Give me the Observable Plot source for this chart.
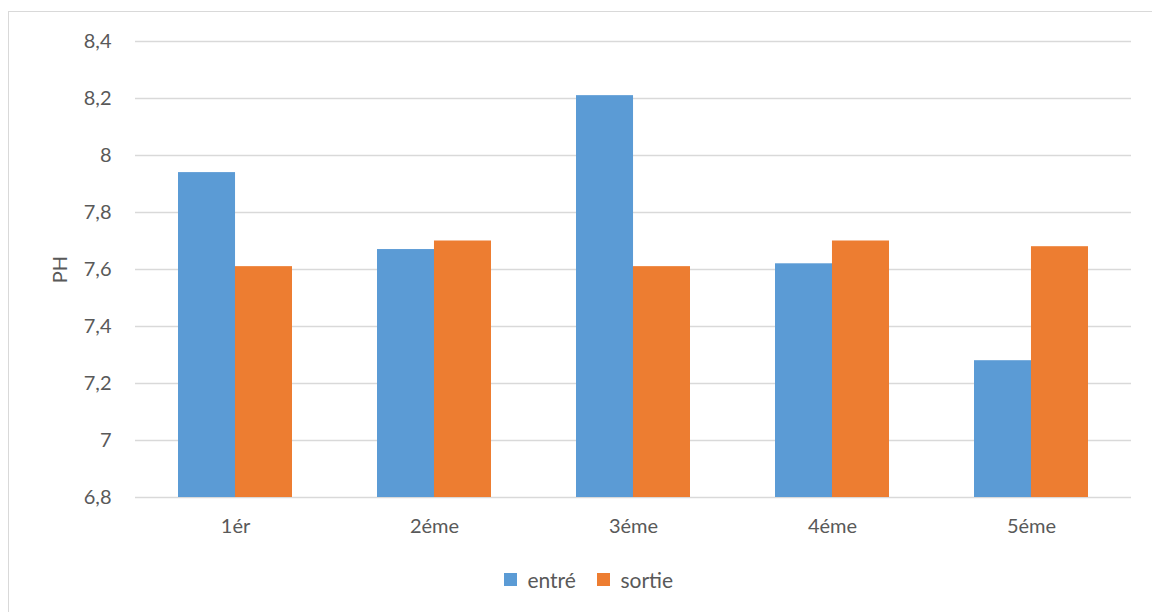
<!DOCTYPE html>
<html>
<head>
<meta charset="utf-8">
<script src="https://cdn.jsdelivr.net/npm/d3@7"></script>
<script src="https://cdn.jsdelivr.net/npm/@observablehq/plot@0.6"></script>
<style>
  html, body { margin: 0; padding: 0; background: #fff; overflow: hidden; }
  body { width: 1152px; height: 612px; position: relative; font-family: Lato, "Open Sans", sans-serif; color: #595959; }
  #frame { position: absolute; left: 8px; top: 11px; width: 1170px; height: 630px; border: 1.5px solid #d9d9d9; box-sizing: border-box; }
  #chart { position: absolute; left: 0; top: 0; }
  #legend { position: absolute; left: 0; top: 563px; width: 1152px; display: flex; justify-content: center; padding-left: 46px; box-sizing: border-box; }
</style>
</head>
<body>
<div id="frame"></div>
<div id="chart"></div>
<div id="legend"></div>
<script>
// Sampling rounds and the pH measured at the inlet (entré) and outlet (sortie)
const categories = ["1ér", "2éme", "3éme", "4éme", "5éme"];
const entre = [7.94, 7.67, 8.21, 7.62, 7.28];
const sortie = [7.61, 7.70, 7.61, 7.70, 7.68];
const series = ["entré", "sortie"];
const colors = ["#5B9BD5", "#ED7D31"];
const yTicks = [6.8, 7, 7.2, 7.4, 7.6, 7.8, 8, 8.2, 8.4];

const rows = categories.map((c, i) => ({cat: c, entre: entre[i], sortie: sortie[i]}));

const W = 1152, H = 558, ML = 135, MR = 21, MT = 41, MB = 61;
const padInner = 0.428;
// each pair of bars shares one band; each bar takes half of it
const half = (W - ML - MR) / categories.length * (1 - padInner) / 2;
const comma = v => String(+v.toFixed(1)).replace(".", ",");
const font = "Lato, 'Open Sans', sans-serif";

const chart = Plot.plot({
  width: W, height: H,
  marginLeft: ML, marginRight: MR, marginTop: MT, marginBottom: MB,
  style: {fontFamily: font, fontSize: "20px", color: "#595959", background: "transparent"},
  x: {domain: categories, paddingInner: padInner, paddingOuter: padInner / 2, label: null},
  y: {domain: [6.8, 8.4], label: null},
  color: {domain: series, range: colors},
  marks: [
    Plot.ruleY(yTicks, {stroke: "#d9d9d9", strokeWidth: 1.3}),
    Plot.barY(rows, {x: "cat", y1: 6.8, y2: "entre", fill: () => "entré", insetLeft: 0, insetRight: half}),
    Plot.barY(rows, {x: "cat", y1: 6.8, y2: "sortie", fill: () => "sortie", insetLeft: half, insetRight: 0}),
    Plot.axisY(yTicks, {tickSize: 0, tickPadding: 24, tickFormat: comma, label: "PH", labelAnchor: "center", labelOffset: 83, labelArrow: "none"}),
    Plot.axisX({tickSize: 0, tickPadding: 21, label: null})
  ]
});
document.getElementById("chart").append(chart);

const legend = Plot.legend({
  color: {domain: series, range: colors},
  swatchSize: 13,
  style: {fontFamily: font, fontSize: "21px", color: "#595959"}
});
document.getElementById("legend").append(legend);
</script>
</body>
</html>
